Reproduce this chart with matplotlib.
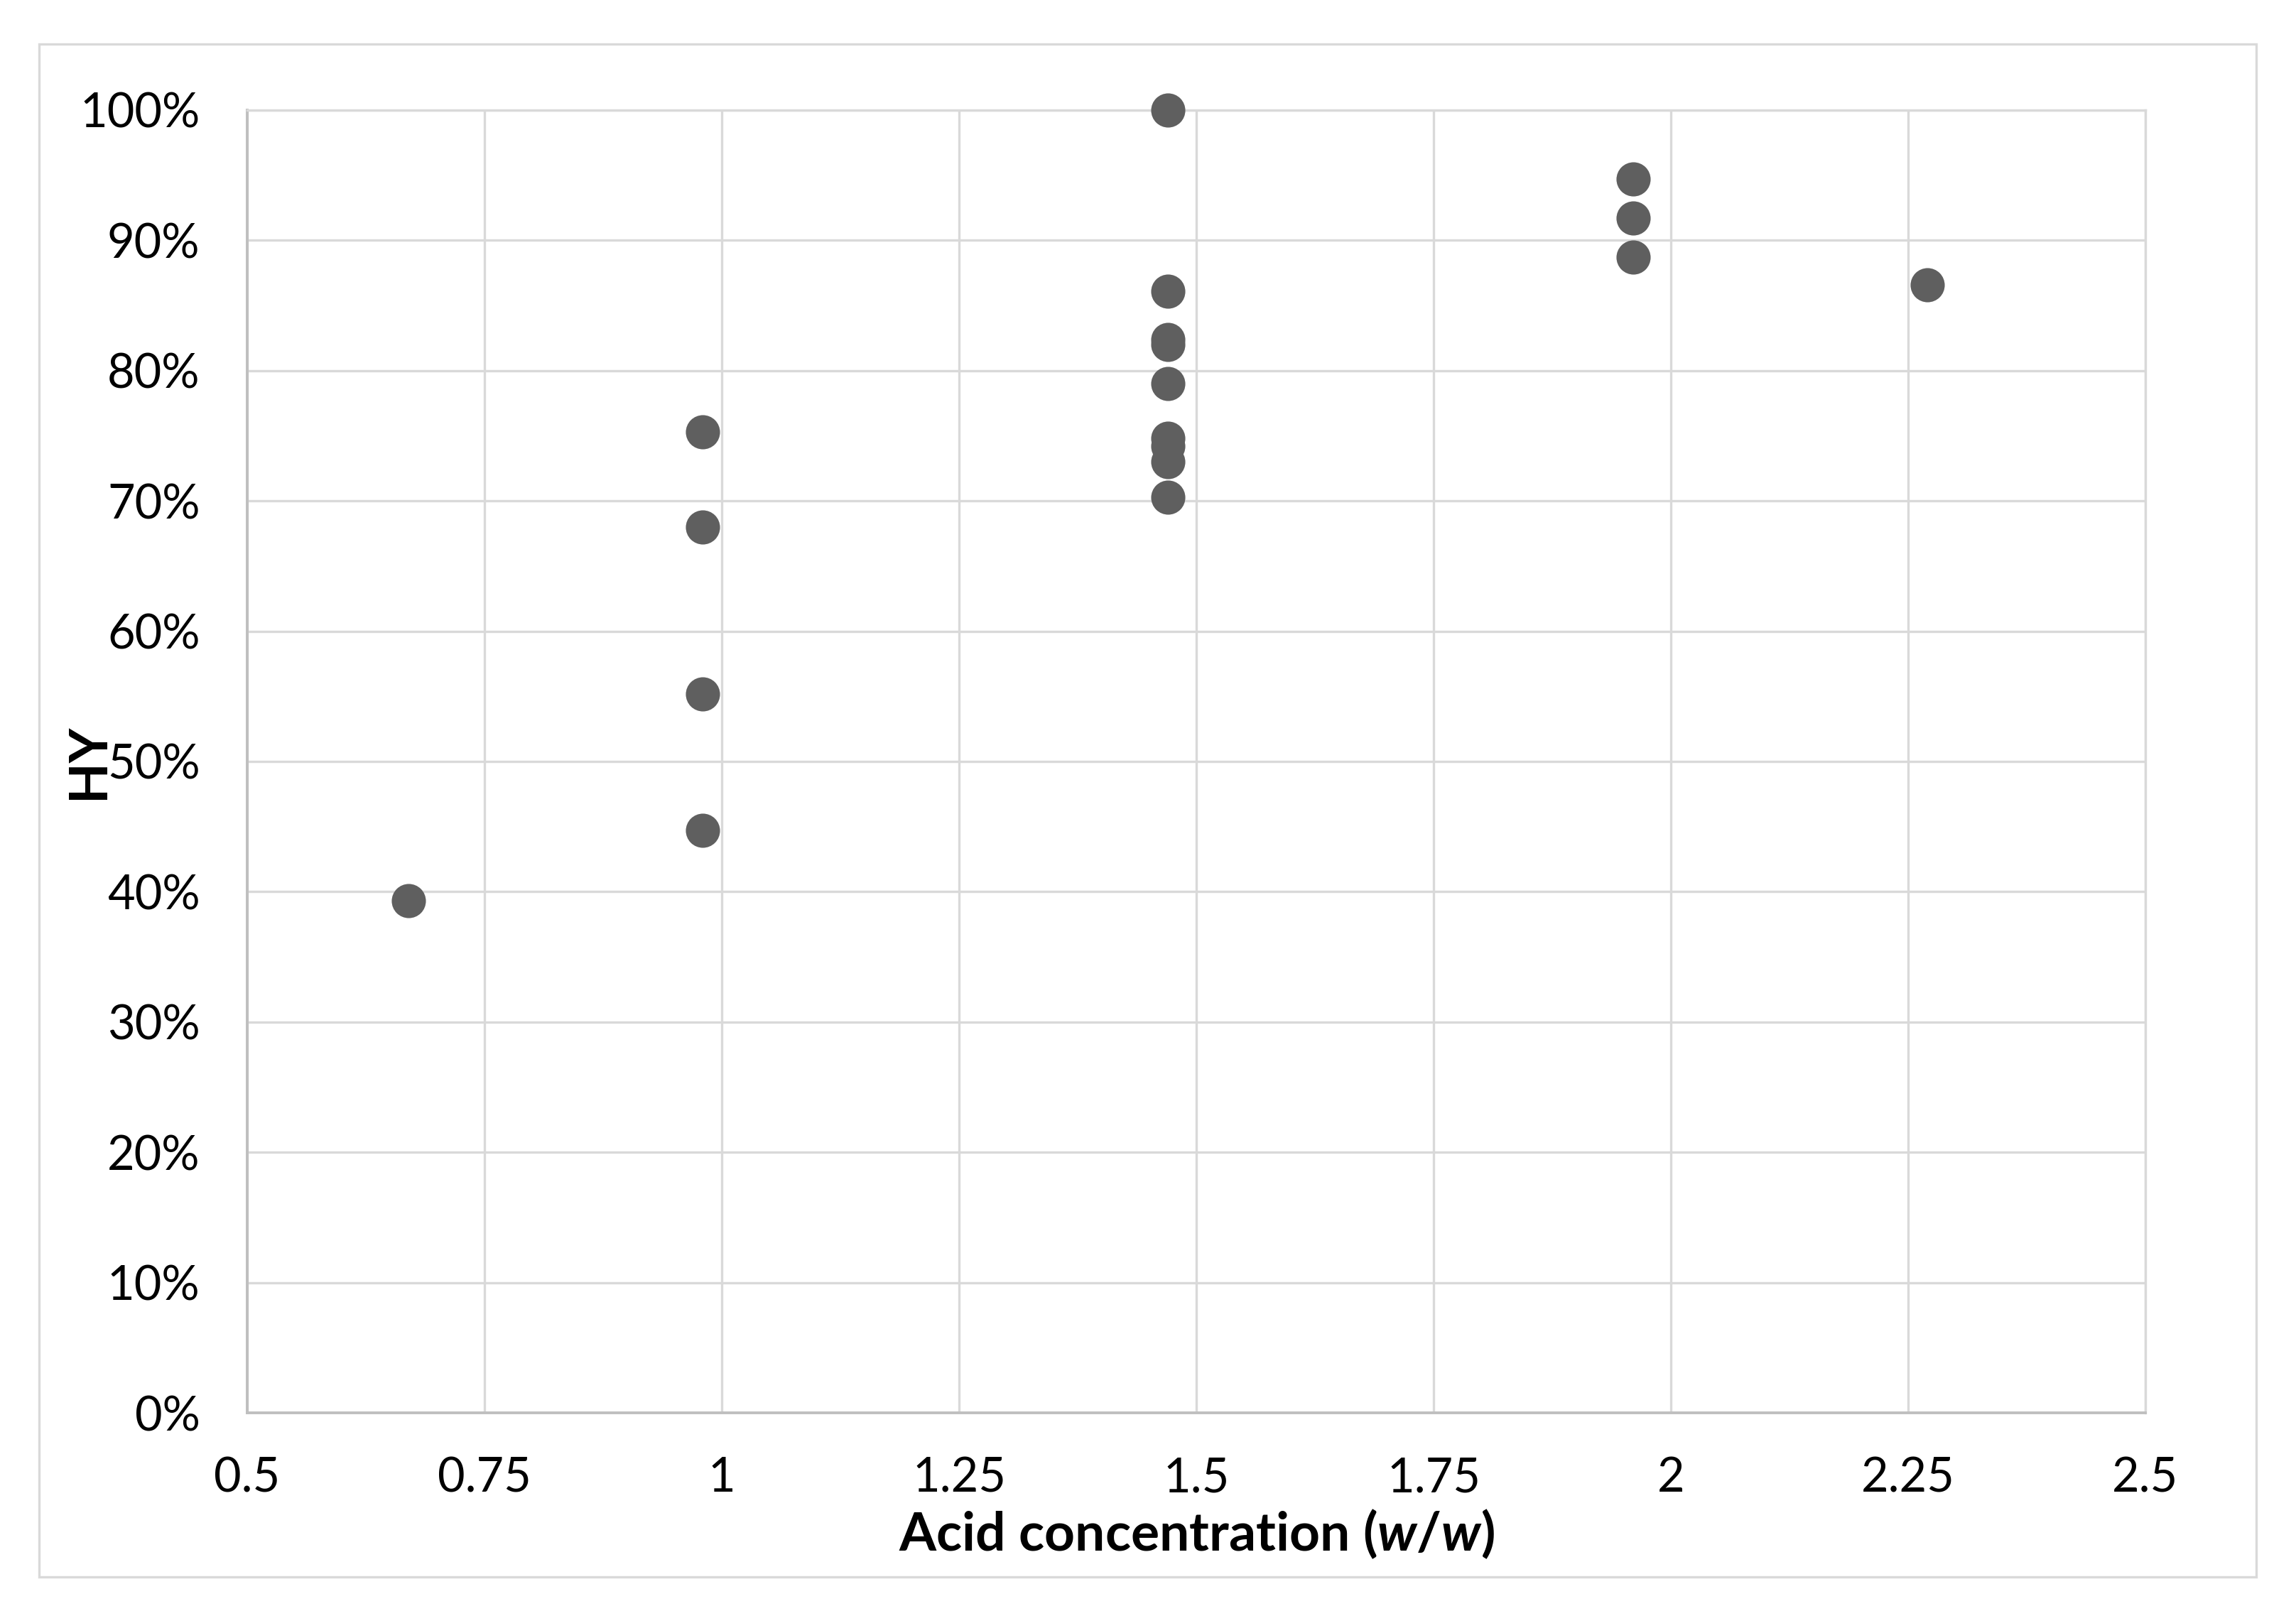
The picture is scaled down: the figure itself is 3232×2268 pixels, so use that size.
import numpy as np
import matplotlib
matplotlib.use('Agg')
import matplotlib.pyplot as plt
from matplotlib.patches import Rectangle
from matplotlib.ticker import PercentFormatter

# フォント設定
plt.rcParams['font.family'] = ['Lato', 'DejaVu Sans']
plt.rcParams['mathtext.fontset'] = 'custom'
plt.rcParams['mathtext.it'] = 'Lato:italic:bold'
plt.rcParams['mathtext.rm'] = 'Lato:bold'

# データ（酸濃度 w/w と HY %）
acid = [0.67,
        0.98, 0.98, 0.98, 0.98,
        1.47, 1.47, 1.47, 1.47, 1.47, 1.47, 1.47, 1.47, 1.47,
        1.96, 1.96, 1.96,
        2.27]
hy = [39.3,
      75.3, 68.0, 55.2, 44.7,
      100.0, 86.1, 82.4, 82.0, 79.0, 74.8, 74.2, 73.0, 70.3,
      94.7, 91.7, 88.7,
      86.6]

x_ticks = [0.5, 0.75, 1, 1.25, 1.5, 1.75, 2, 2.25, 2.5]
x_ticklabels = ['0.5', '0.75', '1', '1.25', '1.5', '1.75', '2', '2.25', '2.5']
y_ticks = np.arange(0, 101, 10)

grid_c = '#d9d9d9'
axis_c = '#bfbfbf'
dot_c = '#5f5f5f'

fig = plt.figure(figsize=(16.16, 11.34), dpi=200)
ax = fig.add_axes([0.1077, 0.1230, 0.8267, 0.8087])

# 外枠
fig.patches.append(Rectangle((0.017, 0.0212), 0.9657, 0.9515, transform=fig.transFigure,
                             fill=False, edgecolor=grid_c, linewidth=1.2))

ax.scatter(acid, hy, s=300, color=dot_c, zorder=3, linewidths=0, clip_on=False)

ax.set_xlim(0.5, 2.5)
ax.set_ylim(0, 100)
ax.set_xticks(x_ticks)
ax.set_xticklabels(x_ticklabels)
ax.set_yticks(y_ticks)
ax.yaxis.set_major_formatter(PercentFormatter(decimals=0))
ax.tick_params(axis='both', length=0, labelsize=24)
ax.tick_params(axis='y', pad=24)
ax.tick_params(axis='x', pad=22)

ax.grid(True, color=grid_c, linewidth=1.2, zorder=0)
ax.set_axisbelow(True)
for s in ['top', 'right']:
    ax.spines[s].set_color(grid_c)
    ax.spines[s].set_linewidth(1.2)
for s in ['left', 'bottom']:
    ax.spines[s].set_color(axis_c)
    ax.spines[s].set_linewidth(1.4)

ax.set_xlabel(r'Acid concentration ($\mathit{w/w}$)', fontsize=27, fontweight='bold')
ax.xaxis.set_label_coords(0.5, -0.093)
ax.xaxis.label.set_verticalalignment('center')
ax.set_ylabel('HY', fontsize=27, fontweight='bold')
ax.yaxis.set_label_coords(-0.0838, 0.5)
ax.yaxis.label.set_verticalalignment('center')

fig.savefig('out.png', dpi=200)
